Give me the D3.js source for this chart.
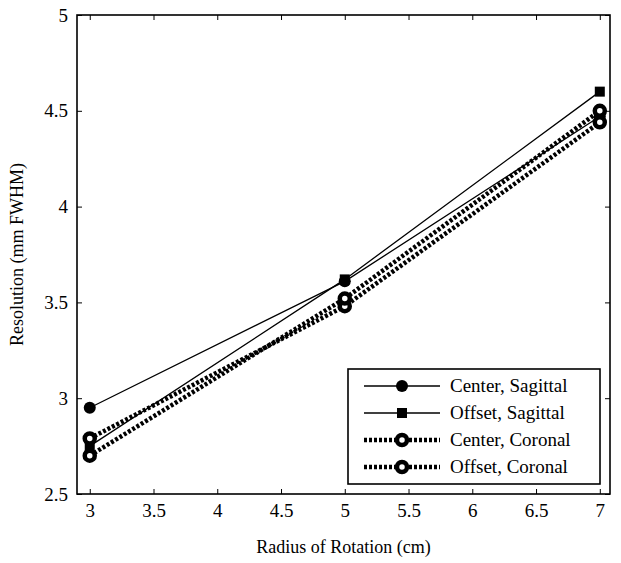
<!DOCTYPE html>
<html>
<head>
<meta charset="utf-8">
<script src="https://cdn.jsdelivr.net/npm/d3@7"></script>
<style>
  body { margin: 0; background: #fff; }
  svg text { font-family: "Liberation Serif", "DejaVu Serif", "Times New Roman", serif !important; fill: #000; }
</style>
</head>
<body>
<span id="chart"></span>
<script>
const radius = [3, 5, 7];
const centerSagittal = [2.95, 3.61, 4.47];
const offsetSagittal = [2.75, 3.62, 4.6];
const centerCoronal = [2.79, 3.48, 4.44];
const offsetCoronal = [2.70, 3.52, 4.5];
const xTicks = [3, 3.5, 4, 4.5, 5, 5.5, 6, 6.5, 7];
const yTicks = [2.5, 3, 3.5, 4, 4.5, 5];

const series = [
  { name: "Center, Sagittal", values: centerSagittal, marker: "circle", dotted: false },
  { name: "Offset, Sagittal", values: offsetSagittal, marker: "square", dotted: false },
  { name: "Center, Coronal", values: centerCoronal, marker: "ring", dotted: true },
  { name: "Offset, Coronal", values: offsetCoronal, marker: "ring", dotted: true }
];

const serif = "'Liberation Serif', 'DejaVu Serif', serif";
const w = 621, h = 563;
const m = { left: 77, right: 11, top: 15, bottom: 69 };

const svg = d3.select("#chart").append("svg")
  .attr("width", w).attr("height", h)
  .attr("font-family", serif);

const x = d3.scaleLinear().domain([2.9, 7.08]).range([m.left, w - m.right]);
const y = d3.scaleLinear().domain([2.5, 5]).range([h - m.bottom, m.top]);

// axes with inward ticks on all four sides
const tickLen = 5;
const fixFont = g => g.attr("font-family", serif).attr("font-size", 19);
svg.append("g").attr("transform", `translate(0,${y(2.5)})`)
  .call(d3.axisBottom(x).tickValues(xTicks).tickSize(-tickLen).tickPadding(10).tickFormat(d3.format("")))
  .call(fixFont)
  .call(g => g.select(".domain").remove());
svg.append("g").attr("transform", `translate(0,${y(5)})`)
  .call(d3.axisTop(x).tickValues(xTicks).tickSize(-tickLen).tickFormat(""))
  .call(g => g.select(".domain").remove());
svg.append("g").attr("transform", `translate(${x.range()[0]},0)`)
  .call(d3.axisLeft(y).tickValues(yTicks).tickSize(-tickLen).tickPadding(9).tickFormat(d3.format("")))
  .call(fixFont)
  .call(g => g.select(".domain").remove());
svg.append("g").attr("transform", `translate(${x.range()[1]},0)`)
  .call(d3.axisRight(y).tickValues(yTicks).tickSize(-tickLen).tickFormat(""))
  .call(g => g.select(".domain").remove());

svg.selectAll(".tick line").attr("stroke", "#000").attr("stroke-width", 1);

svg.append("rect")
  .attr("x", x.range()[0]).attr("y", y(5))
  .attr("width", x.range()[1] - x.range()[0])
  .attr("height", y(2.5) - y(5))
  .attr("fill", "none").attr("stroke", "#000").attr("stroke-width", 1.6);

svg.append("text")
  .attr("x", (x.range()[0] + x.range()[1]) / 2).attr("y", 553)
  .attr("text-anchor", "middle").attr("font-size", 18)
  .text("Radius of Rotation (cm)");
svg.append("text")
  .attr("transform", `translate(23,${(y(2.5) + y(5)) / 2}) rotate(-90)`)
  .attr("text-anchor", "middle").attr("font-size", 18)
  .text("Resolution (mm FWHM)");

const line = d3.line().x(d => x(d[0])).y(d => y(d[1]));

const drawMarker = (g, kind, cx, cy) => {
  if (kind === "circle") {
    g.append("circle").attr("cx", cx).attr("cy", cy).attr("r", 6).attr("fill", "#000");
  } else if (kind === "square") {
    g.append("rect").attr("x", cx - 5).attr("y", cy - 5).attr("width", 10).attr("height", 10).attr("fill", "#000");
  } else {
    g.append("circle").attr("cx", cx).attr("cy", cy).attr("r", 5)
      .attr("fill", "#fff").attr("stroke", "#000").attr("stroke-width", 4.5);
  }
};

const styleLine = (p, s) => p
  .attr("fill", "none").attr("stroke", "#000")
  .attr("stroke-width", s.dotted ? 4.5 : 1.3)
  .attr("stroke-dasharray", s.dotted ? "3,2" : null);

const plot = svg.append("g");
series.forEach(s => {
  const pts = radius.map((r, i) => [r, s.values[i]]);
  styleLine(plot.append("path").datum(pts).attr("d", line), s);
});
series.forEach(s => {
  radius.forEach((r, i) => drawMarker(plot, s.marker, x(r), y(s.values[i])));
});

// legend
const lg = svg.append("g");
lg.append("rect").attr("x", 348).attr("y", 369).attr("width", 252).attr("height", 115)
  .attr("fill", "#fff").attr("stroke", "#000").attr("stroke-width", 1.6);
series.forEach((s, i) => {
  const ly = 386 + i * 27;
  styleLine(lg.append("line").attr("x1", 364).attr("x2", 440).attr("y1", ly).attr("y2", ly), s);
  drawMarker(lg, s.marker, 402, ly);
  lg.append("text").attr("x", 450).attr("y", ly + 6).attr("font-size", 19).text(s.name);
});
</script>
</body>
</html>
